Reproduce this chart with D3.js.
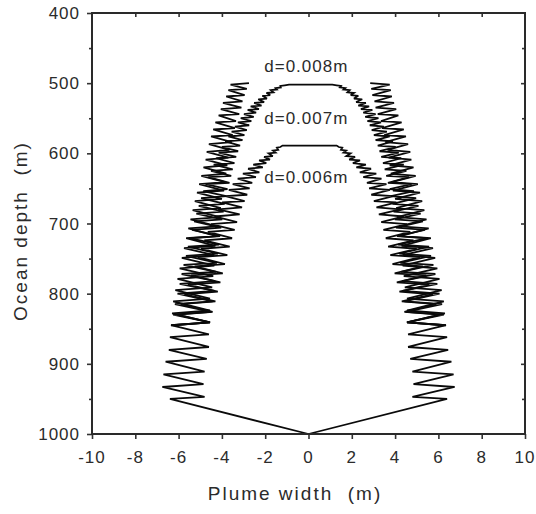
<!DOCTYPE html>
<html>
<head>
<meta charset="utf-8">
<script src="https://cdn.jsdelivr.net/npm/d3@7/dist/d3.min.js"></script>
<style>
  html, body { margin: 0; padding: 0; background: #fff; }
  svg { display: block; }
  text { font-family: "Liberation Sans", Arial, Helvetica, sans-serif; fill: #2b2b2b; }
</style>
</head>
<body>
<script>
// ---------------- data ----------------
const xTicks = [-10, -8, -6, -4, -2, 0, 2, 4, 6, 8, 10];
const yTicks = [400, 500, 600, 700, 800, 900, 1000];
const yMinor = [450, 550, 650, 750, 850, 950];
const curveLabels = ["d=0.008m", "d=0.007m", "d=0.006m"];
const xTitle = "Plume width  (m)";
const yTitle = "Ocean depth  (m)";

// outer plume edge, left half: [width, depth]
const outerLeft = [[0,1000],[-6.4,950],[-4.8,947],[-6.75,933],[-4.85,929],[-6.7,915],[-4.8,911],[-6.6,897],[-4.7,893],[-6.45,880],[-4.6,876],[-6.4,862],[-4.6,858],[-6.35,845],[-4.55,841],[-6.3,828],[-4.55,824],[-6.25,811],[-4.55,807],[-6.15,795],[-4.45,791],[-6.05,779],[-4.4,775],[-5.95,764],[-4.35,760],[-5.85,749],[-4.35,745],[-5.75,735],[-4.3,732],[-5.65,721],[-4.25,718],[-5.55,707],[-4.2,704],[-5.45,694],[-4.1,691],[-5.35,681],[-4.05,678],[-5.25,668],[-4.0,665],[-5.15,656],[-3.9,653],[-5.05,644],[-3.85,641],[-4.95,632],[-3.8,629],[-4.85,620],[-3.75,617],[-4.75,609],[-3.7,606],[-4.7,598],[-3.65,595],[-4.6,587],[-3.55,584],[-4.5,576],[-3.5,574],[-4.4,566],[-3.4,564],[-4.3,556],[-3.35,554],[-4.15,546],[-3.2,544],[-4.05,537],[-3.1,535],[-3.95,528],[-3.05,526],[-3.8,519],[-2.95,517],[-3.7,510],[-2.85,508],[-3.6,502],[-2.75,500]];
// outer plume edge, right half
const outerRight = [[0,1000],[6.4,950],[4.8,947],[6.75,933],[4.85,929],[6.7,915],[4.8,911],[6.6,897],[4.7,893],[6.45,880],[4.6,876],[6.4,862],[4.6,858],[6.35,845],[4.55,841],[6.3,828],[4.55,824],[6.25,811],[4.55,807],[6.15,795],[4.45,791],[6.05,779],[4.4,775],[5.95,764],[4.35,760],[5.85,749],[4.35,745],[5.75,735],[4.3,732],[5.65,721],[4.25,718],[5.55,707],[4.2,704],[5.45,694],[4.1,691],[5.35,681],[4.05,678],[5.25,668],[4.0,665],[5.15,656],[3.9,653],[5.05,644],[3.85,641],[4.95,632],[3.8,629],[4.85,620],[3.75,617],[4.75,609],[3.7,606],[4.7,598],[3.65,595],[4.6,587],[3.55,584],[4.5,576],[3.5,574],[4.4,566],[3.4,564],[4.3,556],[3.35,554],[4.15,546],[3.2,544],[4.05,537],[3.1,535],[3.95,528],[3.05,526],[3.85,519],[2.95,517],[3.8,510],[2.9,508],[3.75,502],[2.85,500]];

// arc closing at 500 m : left half (bottom -> top)
const arc1Left = [[-6.35,845],[-4.55,841],[-6.25,830],[-4.49,826],[-6.17,815],[-4.43,811],[-6.05,800],[-4.35,796],[-5.95,786],[-4.31,782],[-5.86,772],[-4.26,769],[-5.77,759],[-4.23,756],[-5.66,746],[-4.18,743],[-5.57,733],[-4.13,730],[-5.48,721],[-4.08,718],[-5.37,709],[-4.03,706],[-5.28,697],[-3.98,694],[-5.18,686],[-3.92,683],[-5.07,675],[-3.87,672],[-4.96,664],[-3.8,661],[-4.86,654],[-3.74,651],[-4.75,644],[-3.65,642],[-4.63,634],[-3.57,632],[-4.5,625],[-3.5,623],[-4.38,616],[-3.42,614],[-4.26,607],[-3.34,605],[-4.15,599],[-3.25,597],[-4.0,591],[-3.16,589],[-3.85,583],[-3.05,581],[-3.7,576],[-2.96,574],[-3.55,569],[-2.85,567],[-3.4,562],[-2.74,560],[-3.26,556],[-2.64,554],[-3.13,550],[-2.53,548],[-2.98,544],[-2.42,542],[-2.81,538],[-2.29,537],[-2.67,533],[-2.17,532],[-2.51,528],[-2.05,527],[-2.32,523],[-1.92,522],[-2.13,518],[-1.77,517],[-1.94,514],[-1.62,513],[-1.74,510],[-1.46,509],[-1.52,507],[-1.28,506],[-1.3,504],[-1.1,503],[-0.9,502]];
// arc closing at 500 m : right half (top -> bottom)
const arc1Right = [[1.1,502],[1.3,503],[1.5,504],[1.45,506],[1.7,507],[1.62,509],[1.9,510],[1.8,513],[2.1,514],[1.95,517],[2.3,518],[2.1,522],[2.48,523],[2.2,527],[2.65,528],[2.3,532],[2.8,533],[2.42,537],[2.95,538],[2.53,542],[3.1,544],[2.62,548],[3.23,550],[2.72,554],[3.35,556],[2.83,560],[3.48,562],[2.92,567],[3.62,569],[3.02,574],[3.75,576],[3.1,581],[3.9,583],[3.2,589],[4.03,591],[3.28,597],[4.17,599],[3.36,605],[4.28,607],[3.44,614],[4.4,616],[3.52,623],[4.52,625],[3.59,632],[4.64,634],[3.67,642],[4.76,644],[3.75,651],[4.87,654],[3.81,661],[4.97,664],[3.88,672],[5.08,675],[3.93,683],[5.18,686],[3.99,694],[5.28,697],[4.04,706],[5.37,709],[4.09,718],[5.48,721],[4.14,730],[5.57,733],[4.19,743],[5.66,746],[4.24,756],[5.77,759],[4.27,769],[5.86,772],[4.32,782],[5.95,786],[4.36,796],[6.05,800],[4.43,811],[6.17,815],[4.49,826],[6.25,830],[4.55,841],[6.35,845]];

// arc closing at ~590 m : left half (bottom -> top)
const arc2Left = [[-6.25,845],[-4.55,841],[-6.07,830],[-4.43,826],[-5.9,815],[-4.3,811],[-5.73,801],[-4.19,797],[-5.57,787],[-4.07,784],[-5.42,774],[-3.96,771],[-5.26,761],[-3.86,758],[-5.11,748],[-3.75,745],[-4.96,736],[-3.64,733],[-4.81,724],[-3.53,721],[-4.65,712],[-3.41,709],[-4.5,701],[-3.3,698],[-4.34,690],[-3.18,687],[-4.17,680],[-3.07,677],[-3.99,670],[-2.95,668],[-3.83,661],[-2.83,659],[-3.68,652],[-2.72,650],[-3.5,644],[-2.6,642],[-3.27,636],[-2.43,634],[-3.03,629],[-2.27,627],[-2.79,622],[-2.11,620],[-2.55,616],[-1.95,614],[-2.28,610],[-1.78,609],[-2.05,605],[-1.65,604],[-1.84,600],[-1.52,599],[-1.64,596],[-1.4,595],[-1.46,592],[-1.3,591],[-1.2,589]];
// arc closing at ~590 m : right half (top -> bottom)
const arc2Right = [[1.3,589],[1.4,591],[1.56,592],[1.5,595],[1.74,596],[1.62,599],[1.94,600],[1.75,604],[2.15,605],[1.88,609],[2.38,610],[2.05,614],[2.65,616],[2.21,620],[2.89,622],[2.37,627],[3.13,629],[2.53,634],[3.37,636],[2.7,642],[3.6,644],[2.8,650],[3.76,652],[2.9,659],[3.91,661],[3.02,668],[4.06,670],[3.14,677],[4.24,680],[3.25,687],[4.4,690],[3.36,698],[4.55,701],[3.46,709],[4.7,712],[3.57,721],[4.85,724],[3.68,733],[5.0,736],[3.78,745],[5.14,748],[3.88,758],[5.28,761],[3.98,771],[5.44,774],[4.08,784],[5.58,787],[4.2,797],[5.74,801],[4.31,811],[5.9,815],[4.43,826],[6.07,830],[4.55,841],[6.25,845]];

// ---------------- drawing ----------------
const W = 536, H = 514;
const L = 92, R = 525, T = 13, B = 434;

const svg = d3.select("body").append("svg").attr("width", W).attr("height", H);

const x = d3.scaleLinear().domain([-10, 10]).range([L, R]);
const y = d3.scaleLinear().domain([400, 1000]).range([T, B]);

const line = d3.line().x(d => x(d[0])).y(d => y(d[1]));

const g = svg.append("g");

// curves
const paths = [outerLeft, outerRight, arc1Left.concat(arc1Right), arc2Left.concat(arc2Right)];
g.selectAll("path.curve").data(paths).enter().append("path")
  .attr("class", "curve")
  .attr("d", line)
  .attr("fill", "none")
  .attr("stroke", "#0a0a0a")
  .attr("stroke-width", 1.8)
  .attr("stroke-linejoin", "miter")
  .attr("stroke-miterlimit", 3);

// axes ticks
const axisStyle = sel => {
  sel.select(".domain").remove();
  sel.selectAll(".tick line").attr("stroke", "#333").attr("stroke-width", 1.6);
  sel.selectAll(".tick text").remove();
};
svg.append("g").attr("transform", `translate(0,${B})`)
  .call(d3.axisBottom(x).tickValues(xTicks).tickSize(5)).call(axisStyle);
svg.append("g").attr("transform", `translate(0,${T})`)
  .call(d3.axisBottom(x).tickValues(xTicks.slice(1, -1)).tickSize(4)).call(axisStyle);
svg.append("g").attr("transform", `translate(${L},0)`)
  .call(d3.axisLeft(y).tickValues(yTicks).tickSize(5)).call(axisStyle);
svg.append("g").attr("transform", `translate(${L},0)`)
  .call(d3.axisLeft(y).tickValues(yMinor).tickSize(3)).call(axisStyle);
svg.append("g").attr("transform", `translate(${R},0)`)
  .call(d3.axisLeft(y).tickValues(yTicks.slice(1, -1)).tickSize(4)).call(axisStyle);
svg.append("g").attr("transform", `translate(${R},0)`)
  .call(d3.axisLeft(y).tickValues(yMinor).tickSize(3)).call(axisStyle);

// frame
svg.append("rect")
  .attr("x", L).attr("y", T).attr("width", R - L).attr("height", B - T)
  .attr("fill", "none").attr("stroke", "#2a2a2a").attr("stroke-width", 2);

// tick labels
svg.selectAll("text.xl").data(xTicks).enter().append("text")
  .attr("class", "xl")
  .attr("x", d => x(d)).attr("y", 463)
  .attr("text-anchor", "middle")
  .attr("font-size", 17).attr("letter-spacing", 1)
  .text(d => d);
svg.selectAll("text.yl").data(yTicks).enter().append("text")
  .attr("class", "yl")
  .attr("x", 80).attr("y", d => y(d) + 6)
  .attr("text-anchor", "end")
  .attr("font-size", 17).attr("letter-spacing", 1)
  .text(d => d);

// axis titles
svg.append("text")
  .attr("x", 295).attr("y", 500)
  .attr("text-anchor", "middle")
  .attr("font-size", 19).attr("letter-spacing", 2)
  .style("white-space", "pre")
  .text(xTitle);
svg.append("text")
  .attr("transform", "translate(27,231) rotate(-90)")
  .attr("text-anchor", "middle")
  .attr("font-size", 19).attr("letter-spacing", 2)
  .style("white-space", "pre")
  .text(yTitle);

// curve labels
const labelDepth = [484, 558, 642];
svg.selectAll("text.cl").data(curveLabels).enter().append("text")
  .attr("class", "cl")
  .attr("x", x(-0.1)).attr("y", (d, i) => y(labelDepth[i]))
  .attr("text-anchor", "middle")
  .attr("font-size", 17).attr("letter-spacing", 1)
  .text(d => d);
</script>
</body>
</html>
